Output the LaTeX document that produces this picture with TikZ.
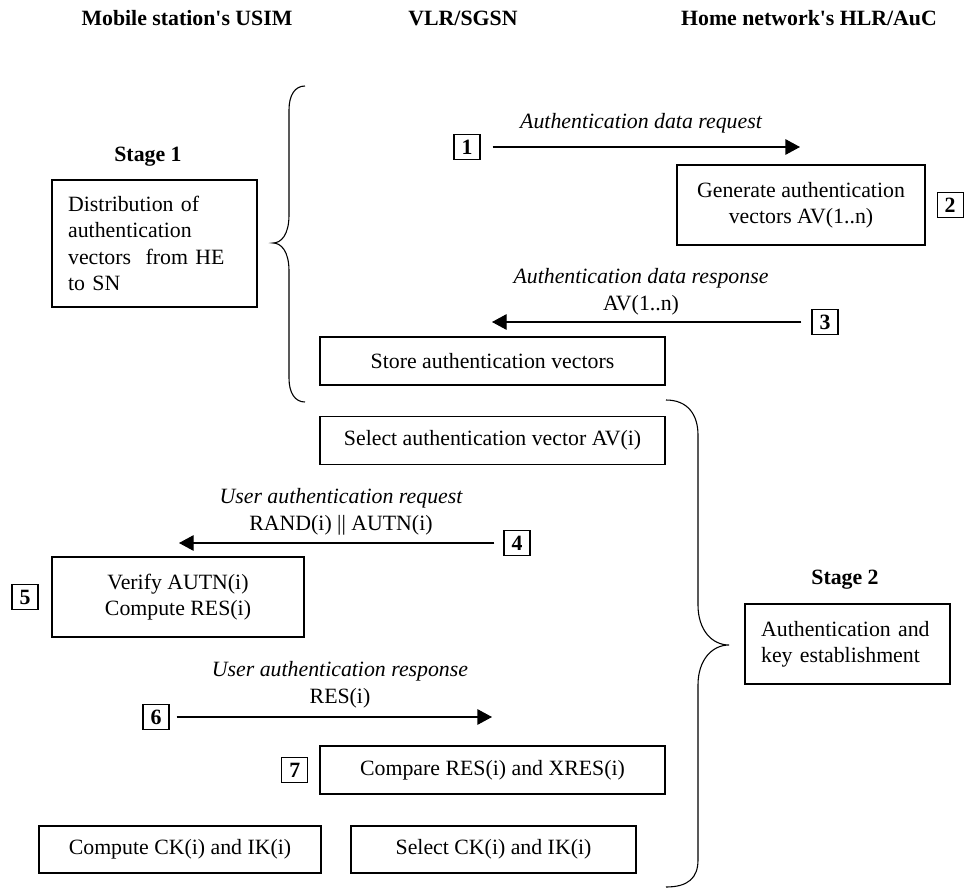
\documentclass[tikz,border=0pt,12pt]{standalone}
\usepackage{fontspec}
\setmainfont{Liberation Serif}
\usetikzlibrary{arrows.meta,positioning}

\begin{document}
\begin{tikzpicture}[
    x=0.55pt, y=-0.55pt,
    node distance=6pt,
    box/.style={draw, line width=0.7pt, align=center, minimum height=26.4pt},
    stagebox/.style={draw, line width=0.7pt, align=left, text width=95pt, inner xsep=8.9pt, minimum height=44pt},
    num/.style={draw, line width=0.7pt, font=\bfseries, inner sep=0pt, minimum width=14.3pt, minimum height=13.75pt},
    msg/.style={align=center, font=\fontsize{12}{14.8}\selectfont},
    line/.style={-{Triangle[length=8pt,width=8.5pt]}, line width=0.6pt},
    brace/.style={line width=0.6pt}
]
\useasboundingbox (0,0) rectangle (972,888);

% column heads
\node[font=\bfseries] (usim) at (187,18) {Mobile station\textquotesingle s USIM};
\node[font=\bfseries] (vlr) at (463,18) {VLR/SGSN};
\node[font=\bfseries] (hlr) at (809,18) {Home network\textquotesingle s HLR/AuC};

% stage 1
\node[font=\bfseries] (st1) at (148,157) {Stage 1};
\node[stagebox, minimum height=69.85pt] (dist) at (154.5,243.5) {Distribution of\\authentication\\vectors\ \ from HE\\to SN};
\draw[brace] (305,86) .. controls (295,86) and (289,95) .. (289,110) -- (289,215)
    .. controls (289,235) and (281,243) .. (273,243)
    .. controls (281,243) and (289,251) .. (289,271) -- (289,378)
    .. controls (289,393) and (295,402) .. (305,402);

\node[num] (n1) at (467,147) {1};
\coordinate (r1) at (800,147);
\node[font=\itshape] (m1) at (641,123) {Authentication data request};
\node[box, minimum width=136.4pt, minimum height=44pt] (gen) at (801,205) {Generate authentication\\vectors AV(1..n)};
\node[num, right=of gen] (n2) {2};
\node[num] (n3) at (825,322) {3};
\coordinate (r3) at (492,322);
\node[msg] (m3) at (641,292) {{\itshape Authentication data response}\\AV(1..n)};
\node[box, minimum width=189.75pt] (store) at (492.5,361) {Store authentication vectors};

% stage 2
\node[box, minimum width=189.75pt] (selav) at (492.5,440.5) {Select authentication vector AV(i)};
\node[num] (n4) at (517,543) {4};
\coordinate (r4) at (179,543);
\node[msg] (m4) at (341,512) {{\itshape User authentication request}\\RAND(i) || AUTN(i)};
\node[box, minimum width=138.6pt, minimum height=44pt] (verify) at (178,597) {Verify AUTN(i)\\Compute RES(i)};
\node[num, left=7pt of verify] (n5) {5};
\node[num] (n6) at (156,717) {6};
\coordinate (r6) at (492,717);
\node[msg] (m6) at (340,685) {{\itshape User authentication response}\\RES(i)};
\node[box, minimum width=189.75pt] (cmp) at (492.5,770) {Compare RES(i) and XRES(i)};
\node[num, left=of cmp] (n7) {7};
\node[box, minimum width=155.1pt, minimum height=25.85pt] (ckms) at (180,849.5) {Compute CK(i) and IK(i)};
\node[box, minimum width=156.75pt, minimum height=25.85pt] (ckvlr) at (493.5,849.5) {Select CK(i) and IK(i)};

\node[font=\bfseries] (st2) at (845,580) {Stage 2};
\node[stagebox] (ake) at (847.5,644) {Authentication and\\key establishment};
\draw[brace] (666,400) .. controls (688,400) and (698,415) .. (698,435) -- (698,605)
    .. controls (698,630) and (712,645) .. (729,645)
    .. controls (712,645) and (698,660) .. (698,685) -- (698,860)
    .. controls (698,878) and (688,887) .. (666,887);

% messages
\draw[line, shorten <=6.6pt] (n1) -- (r1);
\draw[line, shorten <=5.5pt] (n3) -- (r3);
\draw[line, shorten <=5pt] (n4) -- (r4);
\draw[line, shorten <=3.9pt] (n6) -- (r6);
\end{tikzpicture}
\end{document}
